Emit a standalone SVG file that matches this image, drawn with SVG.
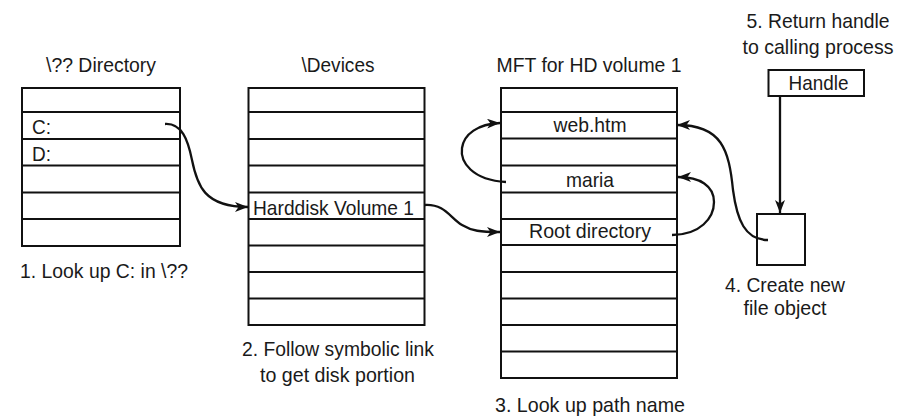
<svg xmlns="http://www.w3.org/2000/svg" width="913" height="416" viewBox="0 0 913 416">
<defs>
<style>
text{font-family:"Liberation Sans",Arial,Helvetica,sans-serif;font-size:21px;fill:#1a1a1a}
.m{text-anchor:middle}
.box{fill:#fff;stroke:#111;stroke-width:2}
.sep{stroke:#111;stroke-width:2}
.conn{fill:none;stroke:#111;stroke-width:2.3}
</style>
<marker id="ah" markerUnits="userSpaceOnUse" markerWidth="14" markerHeight="12" refX="13" refY="5" orient="auto">
<path d="M0,0 L13,5 L0,10 L3.5,5 z" fill="#111"/>
</marker>
</defs>
<rect width="913" height="416" fill="#fff"/>

<g id="dir-table">
<text class="m" x="101" y="72" textLength="110" lengthAdjust="spacingAndGlyphs">\?? Directory</text>
<rect class="box" x="22" y="88" width="158" height="158"/>
<path class="sep" d="M22,112H180M22,139H180M22,165.5H180M22,192.5H180M22,219H180"/>
<text x="32" y="134" textLength="19" lengthAdjust="spacingAndGlyphs">C:</text>
<text x="32" y="161" textLength="19" lengthAdjust="spacingAndGlyphs">D:</text>
<text x="20" y="278" textLength="168" lengthAdjust="spacingAndGlyphs">1. Look up C: in \??</text>
</g>

<g id="devices-table">
<text class="m" x="338" y="72" textLength="73" lengthAdjust="spacingAndGlyphs">\Devices</text>
<rect class="box" x="248.5" y="88" width="176" height="237"/>
<path class="sep" d="M248.5,112H424.5M248.5,139H424.5M248.5,165.5H424.5M248.5,192.5H424.5M248.5,219H424.5M248.5,245.5H424.5M248.5,272H424.5M248.5,298.5H424.5"/>
<text x="253" y="215" textLength="161" lengthAdjust="spacingAndGlyphs">Harddisk Volume 1</text>
<text class="m" x="338" y="356" textLength="192" lengthAdjust="spacingAndGlyphs">2. Follow symbolic link</text>
<text class="m" x="337.5" y="382" textLength="155" lengthAdjust="spacingAndGlyphs">to get disk portion</text>
</g>

<g id="mft-table">
<text class="m" x="589" y="72" textLength="185" lengthAdjust="spacingAndGlyphs">MFT for HD volume 1</text>
<rect class="box" x="501" y="88" width="176" height="290"/>
<path class="sep" d="M501,112H677M501,138.5H677M501,165.5H677M501,192.5H677M501,219H677M501,245H677M501,272H677M501,298.5H677M501,325H677M501,351.5H677"/>
<text class="m" x="590" y="132" textLength="73" lengthAdjust="spacingAndGlyphs">web.htm</text>
<text class="m" x="590" y="187" textLength="48" lengthAdjust="spacingAndGlyphs">maria</text>
<text class="m" x="590" y="238" textLength="122" lengthAdjust="spacingAndGlyphs">Root directory</text>
<text class="m" x="590" y="412" textLength="190" lengthAdjust="spacingAndGlyphs">3. Look up path name</text>
</g>

<g id="handle">
<text class="m" x="818" y="28" textLength="143" lengthAdjust="spacingAndGlyphs">5. Return handle</text>
<text class="m" x="818" y="54" textLength="151" lengthAdjust="spacingAndGlyphs">to calling process</text>
<rect class="box" x="768.5" y="70" width="95.5" height="26"/>
<text class="m" x="818.5" y="90" textLength="60" lengthAdjust="spacingAndGlyphs">Handle</text>
</g>

<g id="file-object">
<rect class="box" x="757" y="214" width="48" height="51"/>
<text class="m" x="785" y="292" textLength="120" lengthAdjust="spacingAndGlyphs">4. Create new</text>
<text class="m" x="785" y="315" textLength="83" lengthAdjust="spacingAndGlyphs">file object</text>
</g>

<g id="connectors">
<path class="conn" marker-end="url(#ah)" d="M165,124 C182,123 188,140 192,160 C197,185 204,207 248,207"/>
<path class="conn" marker-end="url(#ah)" d="M425,205 C445,204 450,218 462,225 C472,231 480,232 500,232"/>
<path class="conn" marker-end="url(#ah)" d="M506,182 C472,180 460,162 462,148 C464,134 478,124 500,123"/>
<path class="conn" marker-end="url(#ah)" d="M672,235 C700,235 714,218 714,202 C714,186 700,177 678,177"/>
<path class="conn" marker-end="url(#ah)" d="M768,240 C745,240 737,220 733,190 C729,150 722,125 677,125"/>
<path class="conn" marker-end="url(#ah)" d="M780,96 V213"/>
</g>
</svg>
